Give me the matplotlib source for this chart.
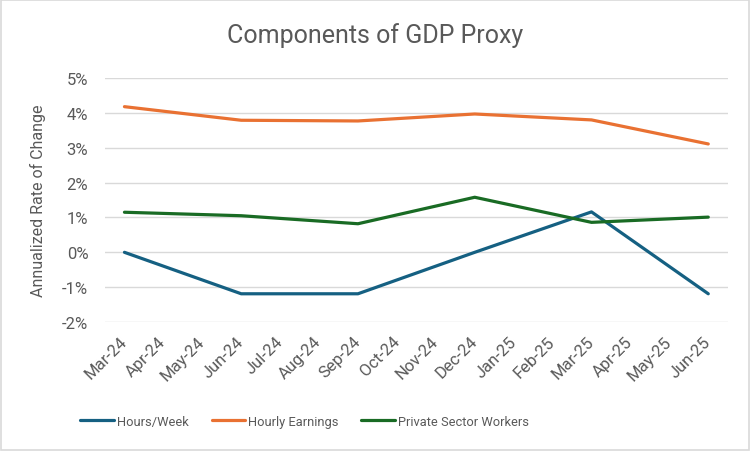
import matplotlib
matplotlib.use("Agg")
import matplotlib.pyplot as plt
from matplotlib.patches import Rectangle
from matplotlib.ticker import FuncFormatter

# Month axis and quarterly readings (annualized % change)
months = ["Mar-24", "Apr-24", "May-24", "Jun-24", "Jul-24", "Aug-24", "Sep-24", "Oct-24",
          "Nov-24", "Dec-24", "Jan-25", "Feb-25", "Mar-25", "Apr-25", "May-25", "Jun-25"]
quarters = ["Mar-24", "Jun-24", "Sep-24", "Dec-24", "Mar-25", "Jun-25"]
hours_week = [0.0, -1.19, -1.19, 0.0, 1.16, -1.19]
hourly_earnings = [4.18, 3.79, 3.77, 3.97, 3.80, 3.11]
private_workers = [1.15, 1.05, 0.82, 1.58, 0.86, 1.01]

plt.rcParams["font.family"] = ["Roboto", "DejaVu Sans"]
grey = "#595959"

fig = plt.figure(figsize=(7.51, 4.52), dpi=100)
ax = fig.add_axes([0.1398, 0.2854, 0.969 - 0.1398, 0.825 - 0.2854])

x = [months.index(q) for q in quarters]
ax.plot(x, hours_week, color="#156082", lw=2.3, solid_capstyle="round", label="Hours/Week")
ax.plot(x, hourly_earnings, color="#E97132", lw=2.3, solid_capstyle="round", label="Hourly Earnings")
ax.plot(x, private_workers, color="#196B24", lw=2.3, solid_capstyle="round", label="Private Sector Workers")

ax.set_xlim(-0.5, len(months) - 0.5)
ax.set_ylim(-2, 5)
ax.set_yticks(range(-2, 6))
ax.yaxis.set_major_formatter(FuncFormatter(lambda v, p: f"{v:.0f}%"))
ax.set_xticks(range(len(months)))
ax.set_xticklabels(months, rotation=45, ha="right", va="center", rotation_mode="anchor")
ax.grid(axis="y", color="#D9D9D9", lw=1)
ax.set_axisbelow(True)
for s in ax.spines.values():
    s.set_visible(False)
ax.tick_params(length=0, colors=grey, labelsize=12)
ax.tick_params(axis="y", pad=12)
ax.tick_params(axis="x", pad=12)
ax.set_ylabel("Annualized Rate of Change", color=grey, fontsize=11.5)
ax.yaxis.set_label_coords(-0.094, 0.5)

fig.text(0.5, 1 - 36 / 452, "Components of GDP Proxy", ha="center", va="center",
         fontsize=18, color=grey)

ax.legend(loc="center left", bbox_to_anchor=(0.107, 0.066), bbox_transform=fig.transFigure,
          ncol=3, frameon=False, fontsize=9.3, handlelength=2.6, handletextpad=0.2,
          columnspacing=1.8, borderpad=0, borderaxespad=0, labelcolor=grey)

fig.patches.append(Rectangle((0.001, 0.002), 0.997, 0.996, transform=fig.transFigure,
                             fill=False, edgecolor="#D9D9D9", lw=1.2))

fig.savefig("out.png", dpi=100, facecolor="white")
